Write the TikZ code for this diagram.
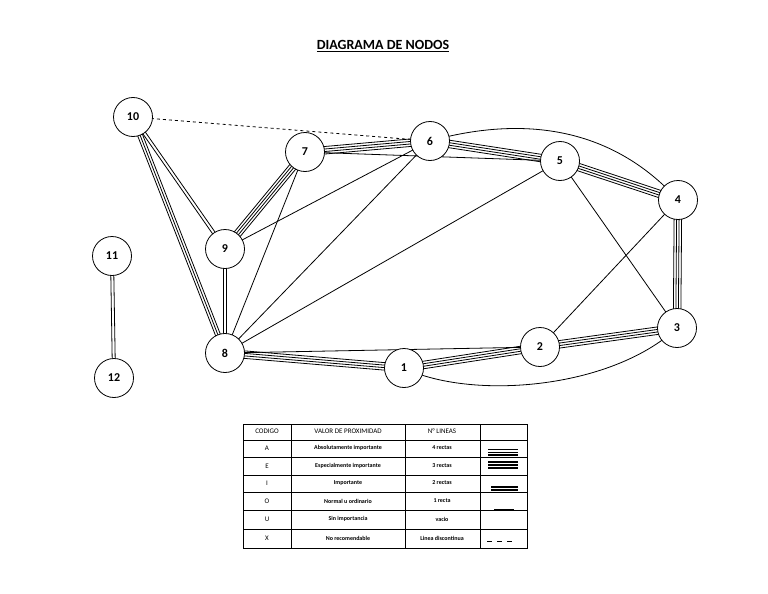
\documentclass[tikz,border=0pt]{standalone}
\usepackage{fontspec}
\setmainfont{Carlito}
\usetikzlibrary{calc}
\tikzset{
  nodo/.style={draw,circle,thick,fill=white,minimum size=39pt,inner sep=0pt,font=\fontsize{12}{12}\selectfont\bfseries},
  celda/.style={font=\fontsize{7}{8}\selectfont},
}
% n parallel lines between two nodes
\newcommand{\lineas}[3]{%
  \foreach \o in {#1}
    \draw ($(#2)!\o pt!90:(#3)$) -- ($(#3)!\o pt!-90:(#2)$);}
\begin{document}
\begin{tikzpicture}[x=1pt,y=-1pt,line width=0.8pt]
\useasboundingbox (0,0) rectangle (768,594);
\node[font=\fontsize{14}{14}\selectfont\bfseries] (titulo) at (383,46) {\underline{DIAGRAMA DE NODOS}};

%Nodes (coordinates first, circles drawn at the end)
\coordinate (n1) at (404,368);
\coordinate (n2) at (540,347);
\coordinate (n3) at (677,328);
\coordinate (n4) at (678,200);
\coordinate (n5) at (560,161);
\coordinate (n6) at (430,141);
\coordinate (n7) at (305,152);
\coordinate (n8) at (225,353);
\coordinate (n9) at (225,249);
\coordinate (n10) at (133,117);
\coordinate (n11) at (112,256);
\coordinate (n12) at (114,378);

%Lines
\draw[dashed] (n10) -- (n6);
\lineas{-1.5,1.5}{n10}{n9}
\lineas{-2.5,0,2.5}{n10}{n8}
\lineas{-1.5,1.5}{n9}{n8}
\lineas{-1.5,1.5}{n11}{n12}
\lineas{-3.75,-1.25,1.25,3.75}{n7}{n6}
\lineas{-3.75,-1.25,1.25,3.75}{n7}{n9}
\lineas{-3.75,-1.25,1.25,3.75}{n6}{n5}
\lineas{-3.75,-1.25,1.25,3.75}{n5}{n4}
\lineas{-3.75,-1.25,1.25,3.75}{n4}{n3}
\lineas{-3.75,-1.25,1.25,3.75}{n3}{n2}
\lineas{-3.75,-1.25,1.25,3.75}{n2}{n1}
\lineas{-3.75,-1.25,1.25,3.75}{n1}{n8}
\draw (n7) -- (n5);
\draw (n7) -- (n8);
\draw (n9) -- (n6);
\draw (n8) -- (n6);
\draw (n8) -- (n5);
\draw (n8) -- (n2);
\draw (n5) -- (n3);
\draw (n4) -- (n2);
\draw (n6) .. controls (520,116) and (610,125) .. (n4);
\draw (n1) .. controls (470,400) and (610,390) .. (n3);

\foreach \i in {1,...,12}
  \node[nodo] (c\i) at (n\i) {\i};

%Table
\draw[line width=0.6pt] (243,424) rectangle (527,548);
\foreach \y in {440,457,475,492,510,529}
  \draw[line width=0.6pt] (243,\y) -- (527,\y);
\foreach \x in {291,405,480}
  \draw[line width=0.6pt] (\x,424) -- (\x,548);
\node[celda] (h1) at (267,431) {CODIGO};
\node[celda] (h2) at (348,431) {VALOR DE PROXIMIDAD};
\node[celda] (h3) at (442,431) {N° LINEAS};
\foreach \c/\v/\n/\y in {A/Absolutamente importante/4 rectas/448,
  E/Especialmente importante/3 rectas/466, I/Importante/2 rectas/483,
  O/Normal u ordinario/1 recta/501, U/Sin importancia/vacio/519,
  X/No recomendable/Linea discontinua/538}{
  \node[celda] at (267,\y) {\c};
  \node[celda,font=\fontsize{6}{7}\selectfont\bfseries] at (348,\y) {\v};
  \node[celda,font=\fontsize{6}{7}\selectfont\bfseries] at (442,\y) {\n};
}
\foreach \y in {449.5,452,454.5,457-2.5+0.5}
  \draw[line width=0.6pt] (488,\y) -- (518,\y);
\foreach \y in {462,465,468}
  \draw[line width=1.2pt] (488,\y) -- (518,\y);
\foreach \y in {487,490}
  \draw[line width=1.2pt] (491,\y) -- (518,\y);
\draw[line width=0.6pt] (494,509) -- (514,509);
\draw[line width=0.6pt,dash pattern=on 5pt off 5pt] (487,541) -- (516,541);
\end{tikzpicture}
\end{document}
